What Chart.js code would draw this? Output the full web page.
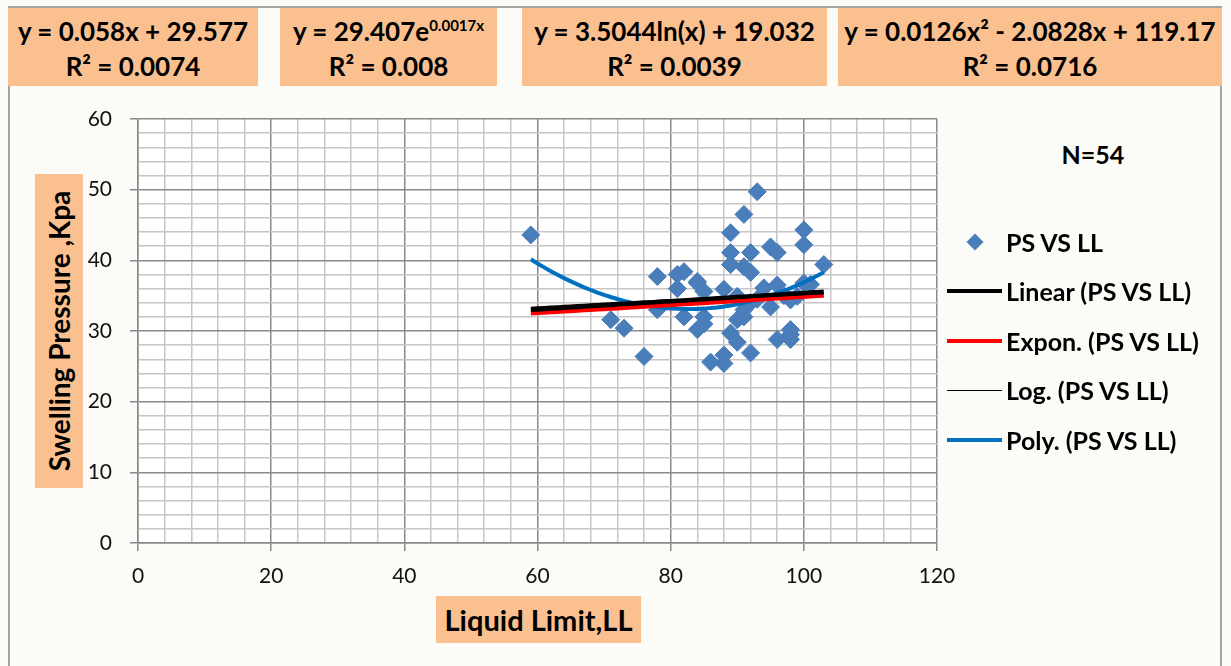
<!DOCTYPE html>
<html>
<head>
<meta charset="utf-8">
<script src="https://cdn.jsdelivr.net/npm/chart.js@4.4.1/dist/chart.umd.min.js"></script>
<style>
  body { margin: 0; width: 1231px; height: 666px; background: #fbfbf8; position: relative; overflow: hidden; font-family: Lato, "Open Sans", sans-serif; color: #000; }
  .frame { position: absolute; left: 8px; top: 6px; width: 1214px; height: 700px; border: 2px solid #a3a3a3; box-sizing: border-box; }
  .eq { position: absolute; top: 8px; height: 78px; background: #fac090; font-weight: bold; font-size: 26px; line-height: 35px; text-align: center; padding-top: 6px; box-sizing: border-box; white-space: nowrap; }
  .eq sup { font-size: 15px; vertical-align: 10px; line-height: 0; }
  #plot { position: absolute; left: 0; top: 100px; }
  #ytitle { position: absolute; left: 35px; top: 174px; width: 48px; height: 314px; background: #fac090; }
  #ytitle span { position: absolute; left: 50%; top: 50%; transform: translate(-50%, -50%) rotate(-90deg); font-weight: bold; font-size: 28px; white-space: nowrap; }
  #xtitle { position: absolute; left: 436px; top: 596px; width: 205px; height: 47px; background: #fac090; font-weight: bold; font-size: 29px; line-height: 47px; text-align: center; white-space: nowrap; }
  #nlabel { position: absolute; left: 1043px; top: 139px; width: 100px; text-align: center; font-weight: bold; font-size: 25px; }
  #legend { position: absolute; left: 947px; top: 217px; margin: 0; padding: 0; list-style: none; }
  #legend li { height: 49.5px; display: flex; align-items: center; font-weight: bold; font-size: 25px; white-space: nowrap; }
  #legend .sym { width: 55px; display: flex; align-items: center; justify-content: center; margin-right: 4px; }
</style>
</head>
<body>
<div class="frame"></div>
<div class="eq" id="eqLin" style="left:8px;width:250px"></div>
<div class="eq" id="eqExp" style="left:280px;width:217px"></div>
<div class="eq" id="eqLog" style="left:522px;width:305px"></div>
<div class="eq" id="eqPoly" style="left:838px;width:384px"></div>

<canvas id="plot" width="960" height="500"></canvas>

<div id="ytitle"><span>Swelling Pressure ,Kpa</span></div>
<div id="xtitle">Liquid Limit,LL</div>
<div id="nlabel">N=54</div>
<ul id="legend"></ul>

<script>
// liquid limit (x) and swelling pressure (y) of the 54 samples
const llValues = [59, 71, 73, 76, 78, 78, 81, 82, 81, 82, 84, 85, 85, 84, 86, 88, 88, 88, 89, 89, 89, 89, 90, 90, 90, 91, 91, 91, 92, 92, 92, 92, 93, 94, 95, 95, 96, 96, 96, 98, 98, 98, 99, 100, 100, 101, 103, 84, 85, 91, 100, 97, 98, 93];
const psValues = [43.6, 31.6, 30.4, 26.4, 37.7, 33.0, 38.0, 38.4, 36.0, 32.0, 37.0, 35.6, 32.0, 30.2, 25.6, 26.6, 25.4, 35.9, 43.9, 41.1, 39.4, 29.7, 34.9, 31.6, 28.4, 46.5, 39.1, 32.0, 41.1, 38.3, 34.0, 26.9, 49.7, 36.1, 41.9, 33.4, 41.1, 36.5, 28.8, 34.4, 30.2, 29.5, 34.9, 44.3, 42.2, 36.6, 39.4, 36.8, 31.0, 33.0, 36.8, 35.0, 28.8, 34.5];

// trendline coefficients and R² as printed in the boxes
const linCoef = [0.058, 29.577];
const expCoef = [29.407, 0.0017];
const logCoef = [3.5044, 19.032];
const polyCoef = [0.0126, -2.0828, 119.17];
const rSquared = [0.0074, 0.008, 0.0039, 0.0716];

const seriesLabels = ['PS VS LL', 'Linear (PS VS LL)', 'Expon. (PS VS LL)', 'Log. (PS VS LL)', 'Poly. (PS VS LL)'];

// equation boxes
document.getElementById('eqLin').innerHTML = 'y = ' + linCoef[0] + 'x + ' + linCoef[1] + '<br>R² = ' + rSquared[0];
document.getElementById('eqExp').innerHTML = 'y = ' + expCoef[0] + 'e<sup>' + expCoef[1] + 'x</sup><br>R² = ' + rSquared[1];
document.getElementById('eqLog').innerHTML = 'y = ' + logCoef[0] + 'ln(x) + ' + logCoef[1] + '<br>R² = ' + rSquared[2];
document.getElementById('eqPoly').innerHTML = 'y = ' + polyCoef[0] + 'x² - ' + Math.abs(polyCoef[1]) + 'x + ' + polyCoef[2] + '<br>R² = ' + rSquared[3];

let points = [];
for (let i = 0; i < llValues.length; i++) {
    points.push({ x: llValues[i], y: psValues[i] });
}

// trendlines span the range of the data
let xMin = Math.min(...llValues);
let xMax = Math.max(...llValues);
let linPts = [], expPts = [], logPts = [], polyPts = [];
for (let x = xMin; x <= xMax; x += 1) {
    linPts.push({ x: x, y: linCoef[0] * x + linCoef[1] });
    expPts.push({ x: x, y: expCoef[0] * Math.exp(expCoef[1] * x) });
    logPts.push({ x: x, y: logCoef[0] * Math.log(x) + logCoef[1] });
    polyPts.push({ x: x, y: polyCoef[0] * x * x + polyCoef[1] * x + polyCoef[2] });
}

function trend(label, pts, color, width, order) {
    return {
        label: label,
        data: pts,
        showLine: true,
        borderColor: color,
        backgroundColor: color,
        borderWidth: width,
        pointRadius: 0,
        tension: 0,
        order: order
    };
}

const datasets = [
    {
        label: seriesLabels[0],
        data: points,
        pointStyle: 'rectRot',
        pointRadius: 9,
        backgroundColor: '#4a7ebb',
        borderColor: '#4a7ebb',
        borderWidth: 1,
        order: 5
    },
    trend(seriesLabels[1], linPts, '#000000', 4.5, 1),
    trend(seriesLabels[2], expPts, '#ff0000', 4.5, 3),
    trend(seriesLabels[3], logPts, '#000000', 1.5, 2),
    trend(seriesLabels[4], polyPts, '#0070c0', 4, 4)
];

const plotBg = {
    id: 'plotBg',
    beforeDraw(chart) {
        const a = chart.chartArea;
        chart.ctx.save();
        chart.ctx.fillStyle = '#ffffff';
        chart.ctx.fillRect(a.left, a.top, a.right - a.left, a.bottom - a.top);
        chart.ctx.restore();
    }
};

const tickFont = { family: 'Lato', size: 21 };

let chart = new Chart(document.getElementById('plot'), {
    type: 'scatter',
    data: { datasets: datasets },
    options: {
        responsive: false,
        animation: false,
        layout: { padding: { top: 19, right: 23, left: 0, bottom: 0 } },
        plugins: {
            legend: { display: false },
            tooltip: { enabled: false }
        },
        scales: {
            x: {
                type: 'linear',
                min: 0,
                max: 120,
                ticks: {
                    stepSize: 4,
                    maxTicksLimit: 100,
                    autoSkip: false,
                    maxRotation: 0,
                    padding: 13,
                    color: '#111',
                    font: tickFont,
                    callback: v => (v % 20 === 0 ? v : '')
                },
                grid: {
                    lineWidth: 1.5,
                    tickLength: 8,
                    color: ctx => (ctx.tick && ctx.tick.value % 20 === 0 ? '#8a8a8a' : '#c6c6c6'),
                    tickColor: ctx => (ctx.tick && ctx.tick.value % 20 === 0 ? '#8a8a8a' : 'rgba(0,0,0,0)')
                },
                border: { color: '#8a8a8a', width: 1.5 },
                afterFit: s => {
                    s.height = 57;
                    s.paddingLeft = 0;
                    s.paddingRight = 0;
                }
            },
            y: {
                type: 'linear',
                min: 0,
                max: 60,
                ticks: {
                    stepSize: 2,
                    maxTicksLimit: 100,
                    autoSkip: false,
                    padding: 18,
                    color: '#111',
                    font: tickFont,
                    callback: v => (v % 10 === 0 ? v : '')
                },
                grid: {
                    lineWidth: 1.5,
                    tickLength: 8,
                    color: ctx => (ctx.tick && ctx.tick.value % 10 === 0 ? '#8a8a8a' : '#c6c6c6'),
                    tickColor: ctx => (ctx.tick && ctx.tick.value % 10 === 0 ? '#8a8a8a' : 'rgba(0,0,0,0)')
                },
                border: { color: '#8a8a8a', width: 1.5 },
                afterFit: s => {
                    s.width = 138;
                    s.paddingTop = 0;
                    s.paddingBottom = 0;
                }
            }
        }
    },
    plugins: [plotBg]
});

// legend list on the right, built from the datasets
let legend = document.getElementById('legend');
chart.data.datasets.forEach(ds => {
    let li = document.createElement('li');
    let sym = document.createElement('span');
    sym.className = 'sym';
    let mark = document.createElement('span');
    if (ds.pointStyle === 'rectRot') {
        mark.style.cssText = 'display:block;width:12px;height:12px;transform:rotate(45deg);background:' + ds.backgroundColor;
    } else {
        mark.style.cssText = 'display:block;width:55px;height:' + Math.min(ds.borderWidth, 4) + 'px;background:' + ds.borderColor;
    }
    sym.appendChild(mark);
    li.appendChild(sym);
    li.appendChild(document.createTextNode(ds.label));
    legend.appendChild(li);
});
</script>
</body>
</html>
